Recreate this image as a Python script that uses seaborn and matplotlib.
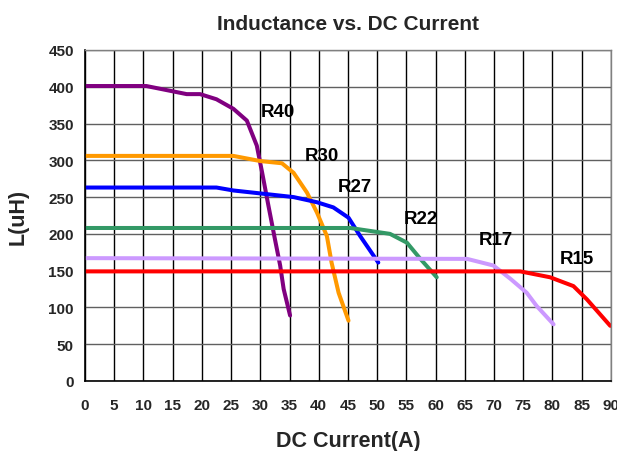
import seaborn as sns
import matplotlib.pyplot as plt
import pandas as pd

# -----------------------------
# Data
# -----------------------------
r40_x = [0, 10.5, 17.4, 19.7, 22.5, 25.4, 27.7, 29.4, 30.3, 31.4, 32.5, 33.4, 34.0, 35.1]
r40_y = [401, 401, 390, 390, 383, 370, 354, 320, 284, 238, 193, 157, 125, 89]

r30_x = [0, 25.4, 30.0, 33.7, 35.7, 38.0, 39.7, 41.4, 42.2, 43.4, 45.1]
r30_y = [306, 306, 299, 296, 283, 256, 229, 197, 161, 120, 82]

r27_x = [0, 22.5, 25.4, 30.0, 35.7, 39.7, 42.5, 45.1, 47.1, 50.2]
r27_y = [263, 263, 259, 255, 250, 243, 236, 222, 197, 161]

r22_x = [0, 45.4, 52.2, 55.1, 57.4, 60.2]
r22_y = [208, 208, 200, 188, 166, 141]

r17_x = [0, 65.4, 69.9, 72.8, 75.6, 77.3, 80.2]
r17_y = [167, 166, 157, 139, 120, 102, 77]

r15_x = [0, 74.5, 79.6, 83.6, 85.9, 89.9]
r15_y = [149, 149, 141, 129, 111, 75]

series_names = ["R40", "R30", "R27", "R22", "R17", "R15"]
series_colors = ["#800080", "#FF9900", "#0000FF", "#339966", "#CC99FF", "#FF0000"]
label_x = [33.0, 40.6, 46.2, 57.5, 70.4, 84.2]
label_y = [367, 306, 265, 221, 193, 167]

x_ticks = list(range(0, 91, 5))
y_ticks = list(range(0, 451, 50))

frames = []
for name, xs, ys in zip(series_names,
                        [r40_x, r30_x, r27_x, r22_x, r17_x, r15_x],
                        [r40_y, r30_y, r27_y, r22_y, r17_y, r15_y]):
    frames.append(pd.DataFrame({"current": xs, "L": ys, "part": name}))
df = pd.concat(frames, ignore_index=True)

# -----------------------------
# Style
# -----------------------------
sns.set_style("white")
plt.rcParams["font.family"] = ["Liberation Sans", "DejaVu Sans"]

fig = plt.figure(figsize=(6.17, 4.52), dpi=100)
ax = fig.add_axes([0.1378, 0.1549, 0.8522, 0.7323])

sns.lineplot(data=df, x="current", y="L", hue="part", hue_order=series_names,
             palette=series_colors, sort=False, estimator=None,
             linewidth=2.9, legend=False, ax=ax)

for name, lx, ly in zip(series_names, label_x, label_y):
    ax.text(lx, ly, name, ha="center", va="center",
            fontsize=13.5, fontweight="bold", color="black")

ax.set_xlim(0, 90)
ax.set_ylim(0, 450)
ax.set_xticks(x_ticks)
ax.set_yticks(y_ticks)
ax.set_xticklabels([str(t) for t in x_ticks], fontsize=11, fontweight="bold")
ax.set_yticklabels([str(t) for t in y_ticks], fontsize=11, fontweight="bold")
ax.tick_params(axis="x", length=0, pad=12)
ax.tick_params(axis="y", length=0, pad=8)

ax.grid(axis="x", color="black", linewidth=1.0)
ax.grid(axis="y", color="#606060", linewidth=1.0)
ax.set_axisbelow(True)

for side in ["left", "bottom"]:
    ax.spines[side].set_color("black")
    ax.spines[side].set_linewidth(1.2)
for side in ["top", "right"]:
    ax.spines[side].set_color("#808080")
    ax.spines[side].set_linewidth(1.0)

ax.set_title("Inductance vs. DC Current", fontsize=15, fontweight="bold", pad=15)
ax.set_xlabel("DC Current(A)", fontsize=15.5, fontweight="bold", labelpad=13)
ax.set_ylabel("L(uH)", fontsize=15.5, fontweight="bold", labelpad=14)

fig.savefig("out.png", dpi=100)
plt.close(fig)
